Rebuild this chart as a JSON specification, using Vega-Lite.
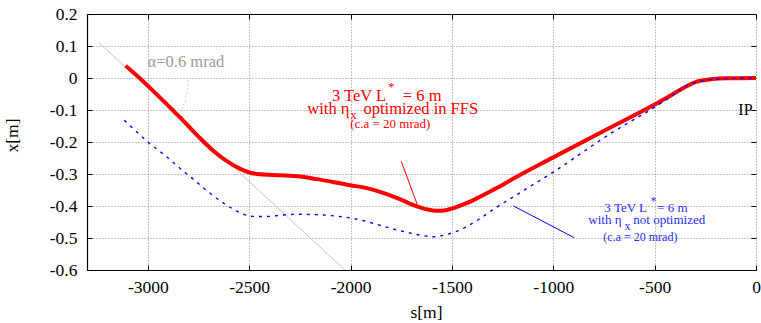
{
  "$schema": "https://vega.github.io/schema/vega-lite/v6.json",
  "width": 669,
  "height": 256,
  "autosize": {"type": "none"},
  "padding": {"left": 87, "top": 14, "right": 5, "bottom": 53},
  "background": "white",
  "config": {
    "view": {"stroke": null},
    "font": "Liberation Serif",
    "axis": {
      "labelFont": "Liberation Serif",
      "labelFontSize": 17.5,
      "labelColor": "black",
      "titleFont": "Liberation Serif",
      "titleFontSize": 17.5,
      "titleFontWeight": "normal",
      "titleColor": "black",
      "domainColor": "black",
      "domainWidth": 1.2,
      "tickColor": "black",
      "gridColor": "#8a8a8a",
      "gridDash": [1, 2],
      "gridWidth": 1,
      "gridOpacity": 1
    }
  },
  "datasets": {
    "curves": [
      {"series": "red", "s": -3110, "x": 0.038},
      {"series": "red", "s": -3041, "x": 0.0},
      {"series": "red", "s": -2950, "x": -0.055},
      {"series": "red", "s": -2873, "x": -0.103},
      {"series": "red", "s": -2840, "x": -0.124},
      {"series": "red", "s": -2790, "x": -0.157},
      {"series": "red", "s": -2741, "x": -0.189},
      {"series": "red", "s": -2676, "x": -0.228},
      {"series": "red", "s": -2610, "x": -0.26},
      {"series": "red", "s": -2544, "x": -0.284},
      {"series": "red", "s": -2495, "x": -0.296},
      {"series": "red", "s": -2446, "x": -0.301},
      {"series": "red", "s": -2347, "x": -0.304},
      {"series": "red", "s": -2248, "x": -0.308},
      {"series": "red", "s": -2167, "x": -0.316},
      {"series": "red", "s": -2003, "x": -0.335},
      {"series": "red", "s": -1920, "x": -0.344},
      {"series": "red", "s": -1854, "x": -0.356},
      {"series": "red", "s": -1760, "x": -0.378},
      {"series": "red", "s": -1673, "x": -0.401},
      {"series": "red", "s": -1620, "x": -0.411},
      {"series": "red", "s": -1574, "x": -0.415},
      {"series": "red", "s": -1530, "x": -0.413},
      {"series": "red", "s": -1500, "x": -0.408},
      {"series": "red", "s": -1430, "x": -0.392},
      {"series": "red", "s": -1361, "x": -0.371},
      {"series": "red", "s": -1270, "x": -0.341},
      {"series": "red", "s": -1215, "x": -0.321},
      {"series": "red", "s": -1000, "x": -0.248},
      {"series": "red", "s": -750, "x": -0.165},
      {"series": "red", "s": -500, "x": -0.083},
      {"series": "red", "s": -430, "x": -0.058},
      {"series": "red", "s": -378, "x": -0.038},
      {"series": "red", "s": -330, "x": -0.022},
      {"series": "red", "s": -296, "x": -0.012},
      {"series": "red", "s": -250, "x": -0.006},
      {"series": "red", "s": -214, "x": -0.003},
      {"series": "red", "s": -150, "x": -0.001},
      {"series": "red", "s": 0, "x": 0.0},
      {"series": "blue", "s": -3116, "x": -0.132},
      {"series": "blue", "s": -3060, "x": -0.165},
      {"series": "blue", "s": -3000, "x": -0.2},
      {"series": "blue", "s": -2923, "x": -0.238},
      {"series": "blue", "s": -2815, "x": -0.296},
      {"series": "blue", "s": -2774, "x": -0.317},
      {"series": "blue", "s": -2738, "x": -0.337},
      {"series": "blue", "s": -2701, "x": -0.356},
      {"series": "blue", "s": -2640, "x": -0.385},
      {"series": "blue", "s": -2578, "x": -0.41},
      {"series": "blue", "s": -2530, "x": -0.425},
      {"series": "blue", "s": -2496, "x": -0.432},
      {"series": "blue", "s": -2420, "x": -0.433},
      {"series": "blue", "s": -2332, "x": -0.428},
      {"series": "blue", "s": -2250, "x": -0.426},
      {"series": "blue", "s": -2167, "x": -0.427},
      {"series": "blue", "s": -2080, "x": -0.431},
      {"series": "blue", "s": -2003, "x": -0.437},
      {"series": "blue", "s": -1900, "x": -0.452},
      {"series": "blue", "s": -1829, "x": -0.465},
      {"series": "blue", "s": -1750, "x": -0.478},
      {"series": "blue", "s": -1689, "x": -0.487},
      {"series": "blue", "s": -1640, "x": -0.493},
      {"series": "blue", "s": -1591, "x": -0.496},
      {"series": "blue", "s": -1525, "x": -0.489},
      {"series": "blue", "s": -1443, "x": -0.47},
      {"series": "blue", "s": -1361, "x": -0.439},
      {"series": "blue", "s": -1287, "x": -0.407},
      {"series": "blue", "s": -1199, "x": -0.372},
      {"series": "blue", "s": -1000, "x": -0.294},
      {"series": "blue", "s": -706, "x": -0.169},
      {"series": "blue", "s": -500, "x": -0.091},
      {"series": "blue", "s": -411, "x": -0.054},
      {"series": "blue", "s": -345, "x": -0.025},
      {"series": "blue", "s": -280, "x": -0.011},
      {"series": "blue", "s": -214, "x": -0.004},
      {"series": "blue", "s": -100, "x": -0.001},
      {"series": "blue", "s": 0, "x": 0.0},
      {"series": "angle", "s": -3240, "x": 0.11},
      {"series": "angle", "s": -2028, "x": -0.6},
      {"series": "arc", "s": -2856, "x": -0.13},
      {"series": "arc", "s": -2833, "x": -0.1},
      {"series": "arc", "s": -2815, "x": -0.07},
      {"series": "arc", "s": -2805, "x": -0.035},
      {"series": "arc", "s": -2799, "x": 0.0},
      {"series": "redptr", "s": -1750, "x": -0.26},
      {"series": "redptr", "s": -1670, "x": -0.397},
      {"series": "blueptr", "s": -1196, "x": -0.4},
      {"series": "blueptr", "s": -897, "x": -0.499}
    ],
    "labels": [
      {"grp": "redBig", "s": -2092, "x": -0.0715, "label": "3 TeV L"},
      {"grp": "redBig", "s": -1742, "x": -0.0715, "label": "= 6 m"},
      {"grp": "redBig", "s": -2213, "x": -0.111, "label": "with η"},
      {"grp": "redBig", "s": -1936, "x": -0.111, "label": "optimized in FFS"},
      {"grp": "redSmall", "s": -1815, "x": -0.041, "label": "*"},
      {"grp": "redSmall", "s": -2002, "x": -0.1287, "label": "x"},
      {"grp": "redSmall", "s": -2002, "x": -0.1567, "label": "(c.a = 20 mrad)"},
      {"grp": "blueBig", "s": -748, "x": -0.418, "label": "3 TeV L"},
      {"grp": "blueBig", "s": -488, "x": -0.418, "label": "= 6 m"},
      {"grp": "blueBig", "s": -827, "x": -0.457, "label": "with η"},
      {"grp": "blueBig", "s": -605, "x": -0.457, "label": "not optimized"},
      {"grp": "blueSmall", "s": -520, "x": -0.398, "label": "*"},
      {"grp": "blueSmall", "s": -649, "x": -0.4735, "label": "x"},
      {"grp": "blueSmall", "s": -753, "x": -0.509, "label": "(c.a = 20 mrad)"},
      {"grp": "gray", "s": -3001, "x": 0.0346, "label": "α=0.6 mrad"},
      {"grp": "ip", "s": -87, "x": -0.116, "label": "IP"}
    ]
  },
  "resolve": {"axis": {"x": "independent", "y": "independent"}},
  "layer": [
    {
      "data": {"name": "curves"},
      "transform": [{"filter": "datum.series === 'angle'"}],
      "mark": {"type": "line", "color": "#c4c4c4", "strokeWidth": 1, "clip": true},
      "encoding": {
        "x": {
          "field": "s", "type": "quantitative",
          "scale": {"domain": [-3300, 0], "nice": false, "zero": false},
          "axis": {
            "orient": "bottom", "title": "s[m]",
            "values": [-3000, -2500, -2000, -1500, -1000, -500, 0],
            "format": "d",
            "labelExpr": "replace(datum.label, '−', '-')",
            "labelFont": "Liberation Serif", "labelFontSize": 17.5,
            "titleFont": "Liberation Serif", "titleFontSize": 17.5,
            "grid": true, "ticks": true, "tickSize": -5,
            "labelPadding": 13, "labelFlush": false, "labelOverlap": false,
            "titleX": 339, "titleY": 47, "titleBaseline": "alphabetic", "titleAnchor": null
          }
        },
        "y": {
          "field": "x", "type": "quantitative",
          "scale": {"domain": [-0.6, 0.2], "nice": false, "zero": false},
          "axis": {
            "orient": "left", "title": "x[m]",
            "values": [-0.6, -0.5, -0.4, -0.3, -0.2, -0.1, 0, 0.1, 0.2],
            "format": ".1~f",
            "labelExpr": "replace(datum.label, '−', '-')",
            "labelFont": "Liberation Serif", "labelFontSize": 17.5,
            "titleFont": "Liberation Serif", "titleFontSize": 17.5,
            "grid": true, "ticks": true, "tickSize": -5,
            "labelPadding": 15, "labelFlush": false, "labelOverlap": false,
            "titleX": -66, "titleY": 121, "titleAnchor": null
          }
        }
      }
    },
    {
      "data": {"name": "curves"},
      "transform": [{"filter": "datum.series === 'arc'"}],
      "mark": {"type": "line", "color": "#b0b0b0", "strokeWidth": 1, "strokeDash": [1, 3]},
      "encoding": {
        "x": {
          "field": "s", "type": "quantitative",
          "axis": {
            "orient": "top", "title": null, "labels": false, "grid": false,
            "values": [-3000, -2500, -2000, -1500, -1000, -500, 0],
            "ticks": true, "tickSize": -5, "domain": true
          }
        },
        "y": {
          "field": "x", "type": "quantitative",
          "axis": {
            "orient": "right", "title": null, "labels": false, "grid": false,
            "values": [-0.6, -0.5, -0.4, -0.3, -0.2, -0.1, 0, 0.1, 0.2],
            "ticks": true, "tickSize": -5, "domain": false
          }
        }
      }
    },
    {
      "data": {"name": "curves"},
      "transform": [{"filter": "datum.series === 'red'"}],
      "mark": {"type": "line", "color": "#ff0000", "strokeWidth": 4, "interpolate": "monotone", "strokeCap": "butt"},
      "encoding": {
        "x": {"field": "s", "type": "quantitative", "axis": null},
        "y": {"field": "x", "type": "quantitative", "axis": null}
      }
    },
    {
      "data": {"name": "curves"},
      "transform": [{"filter": "datum.series === 'blue'"}],
      "mark": {"type": "line", "color": "#0000ff", "strokeWidth": 1.4, "strokeDash": [3, 5], "interpolate": "monotone"},
      "encoding": {
        "x": {"field": "s", "type": "quantitative", "axis": null},
        "y": {"field": "x", "type": "quantitative", "axis": null}
      }
    },
    {
      "data": {"name": "curves"},
      "transform": [{"filter": "datum.series === 'redptr'"}],
      "mark": {"type": "line", "color": "#ff0000", "strokeWidth": 1},
      "encoding": {
        "x": {"field": "s", "type": "quantitative", "axis": null},
        "y": {"field": "x", "type": "quantitative", "axis": null}
      }
    },
    {
      "data": {"name": "curves"},
      "transform": [{"filter": "datum.series === 'blueptr'"}],
      "mark": {"type": "line", "color": "#0000ff", "strokeWidth": 1},
      "encoding": {
        "x": {"field": "s", "type": "quantitative", "axis": null},
        "y": {"field": "x", "type": "quantitative", "axis": null}
      }
    },
    {
      "data": {"name": "labels"},
      "transform": [{"filter": "datum.grp === 'redBig'"}],
      "mark": {"type": "text", "font": "Liberation Serif", "fontSize": 16.5, "color": "#ff0000", "align": "left", "baseline": "alphabetic"},
      "encoding": {
        "x": {"field": "s", "type": "quantitative", "axis": null},
        "y": {"field": "x", "type": "quantitative", "axis": null},
        "text": {"field": "label"}
      }
    },
    {
      "data": {"name": "labels"},
      "transform": [{"filter": "datum.grp === 'redSmall'"}],
      "mark": {"type": "text", "font": "Liberation Serif", "fontSize": 13, "color": "#ff0000", "align": "left", "baseline": "alphabetic"},
      "encoding": {
        "x": {"field": "s", "type": "quantitative", "axis": null},
        "y": {"field": "x", "type": "quantitative", "axis": null},
        "text": {"field": "label"}
      }
    },
    {
      "data": {"name": "labels"},
      "transform": [{"filter": "datum.grp === 'blueBig'"}],
      "mark": {"type": "text", "font": "Liberation Serif", "fontSize": 13, "color": "#2a2aff", "align": "left", "baseline": "alphabetic"},
      "encoding": {
        "x": {"field": "s", "type": "quantitative", "axis": null},
        "y": {"field": "x", "type": "quantitative", "axis": null},
        "text": {"field": "label"}
      }
    },
    {
      "data": {"name": "labels"},
      "transform": [{"filter": "datum.grp === 'blueSmall'"}],
      "mark": {"type": "text", "font": "Liberation Serif", "fontSize": 12, "color": "#2a2aff", "align": "left", "baseline": "alphabetic"},
      "encoding": {
        "x": {"field": "s", "type": "quantitative", "axis": null},
        "y": {"field": "x", "type": "quantitative", "axis": null},
        "text": {"field": "label"}
      }
    },
    {
      "data": {"name": "labels"},
      "transform": [{"filter": "datum.grp === 'gray'"}],
      "mark": {"type": "text", "font": "Liberation Serif", "fontSize": 16.5, "color": "#9a9a9a", "align": "left", "baseline": "alphabetic"},
      "encoding": {
        "x": {"field": "s", "type": "quantitative", "axis": null},
        "y": {"field": "x", "type": "quantitative", "axis": null},
        "text": {"field": "label"}
      }
    },
    {
      "data": {"name": "labels"},
      "transform": [{"filter": "datum.grp === 'ip'"}],
      "mark": {"type": "text", "font": "Liberation Serif", "fontSize": 16, "color": "black", "align": "left", "baseline": "alphabetic"},
      "encoding": {
        "x": {"field": "s", "type": "quantitative", "axis": null},
        "y": {"field": "x", "type": "quantitative", "axis": null},
        "text": {"field": "label"}
      }
    }
  ]
}
